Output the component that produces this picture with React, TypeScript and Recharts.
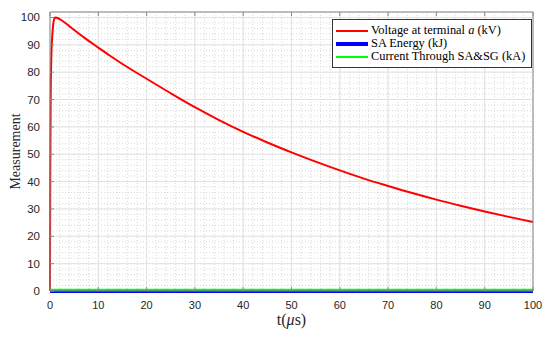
import React from "react";
import { LineChart, Line, XAxis, YAxis, CartesianGrid } from "recharts";

const timeUs = [0, 0.05, 0.15, 0.3, 0.5, 0.8, 1.1, 2, 3.5, 5, 7.5, 10, 12.5, 15, 20, 25, 30, 35, 40, 45, 50, 55, 60, 65, 70, 75, 80, 85, 90, 95, 100];
const voltageKV = [0, 40, 72, 87, 94, 99, 100, 99.4, 97.5, 95.4, 92.1, 89, 85.9, 83, 77.6, 72.3, 67.2, 62.5, 58.2, 54.3, 50.7, 47.3, 44.1, 41.1, 38.4, 35.8, 33.4, 31.2, 29.1, 27.1, 25.2];
const energyKJ = timeUs.map(() => 0);
const currentKA = timeUs.map(() => 0.5);

const X_DOMAIN: [number, number] = [0, 100];
const Y_DOMAIN: [number, number] = [0, 102];
const xTicks = [0, 10, 20, 30, 40, 50, 60, 70, 80, 90, 100];
const yTicks = [0, 10, 20, 30, 40, 50, 60, 70, 80, 90, 100];
const xMinor = Array.from({ length: 51 }, (_, i) => i * 2);
const yMinor = Array.from({ length: 52 }, (_, i) => i * 2);

const legendItems = [
  { label: "Voltage at terminal ", italic: "a", after: " (kV)", color: "#ff0000", w: 2 },
  { label: "SA Energy (kJ)", italic: "", after: "", color: "#0000ff", w: 4 },
  { label: "Current Through SA&SG (kA)", italic: "", after: "", color: "#00ff00", w: 2 },
];

const data = timeUs.map((t, i) => ({ t, v: voltageKV[i], e: energyKJ[i], c: currentKA[i] }));

const TICK_FONT = "'Liberation Sans', Arial, sans-serif";
const SERIF = "'Liberation Serif', 'Times New Roman', serif";
const BORDER = "#8a8a8a";

const BottomTick = (props: any) => {
  const { x, y, payload } = props;
  const axisY = y - 8;
  return (
    <g>
      <line x1={x} y1={axisY} x2={x} y2={axisY - 4} stroke={BORDER} />
      <text x={x} y={y + 10} textAnchor="middle" fontSize={11} fill="#262626" fontFamily={TICK_FONT}>
        {payload.value}
      </text>
    </g>
  );
};

const LeftTick = (props: any) => {
  const { x, y, payload } = props;
  const axisX = x + 9;
  return (
    <g>
      <line x1={axisX} y1={y} x2={axisX + 4} y2={y} stroke={BORDER} />
      <text x={x - 1} y={y + 4} textAnchor="end" fontSize={11.5} fill="#262626" fontFamily={TICK_FONT}>
        {payload.value}
      </text>
    </g>
  );
};

const TopTick = (props: any) => {
  const { x, y } = props;
  const axisY = y + 2;
  return <line x1={x} y1={axisY} x2={x} y2={axisY + 4} stroke={BORDER} />;
};

const RightTick = (props: any) => {
  const { x, y } = props;
  const axisX = x - 2;
  return <line x1={axisX} y1={y} x2={axisX - 4} y2={y} stroke={BORDER} />;
};

const minorH = ({ offset }: any) =>
  yMinor.map((v) => offset.top + offset.height * (1 - (v - Y_DOMAIN[0]) / (Y_DOMAIN[1] - Y_DOMAIN[0])));
const minorV = ({ offset }: any) =>
  xMinor.map((v) => offset.left + (offset.width * (v - X_DOMAIN[0])) / (X_DOMAIN[1] - X_DOMAIN[0]));

export default function App() {
  return (
    <div style={{ position: "absolute", left: 0, top: 0, width: 550, height: 338, background: "#fff" }}>
      <LineChart width={550} height={338} data={data} margin={{ top: 11, right: 16, bottom: 17, left: 0 }}>
        <CartesianGrid
          stroke="#d9d9d9"
          strokeDasharray="1 2"
          horizontalCoordinatesGenerator={minorH}
          verticalCoordinatesGenerator={minorV}
        />
        <CartesianGrid stroke="#e2e2e2" />
        <XAxis
          dataKey="t"
          type="number"
          domain={X_DOMAIN}
          ticks={xTicks}
          height={30}
          tickSize={0}
          tickMargin={8}
          tickLine={false}
          stroke={BORDER}
          tick={<BottomTick />}
          interval={0}
          label={{
            content: ({ viewBox }: any) => (
              <text
                x={viewBox.x + viewBox.width / 2}
                y={viewBox.y + 34}
                textAnchor="middle"
                fontSize={16}
                fill="#262626"
                fontFamily={SERIF}
              >
                <tspan>t(</tspan>
                <tspan fontStyle="italic">μ</tspan>
                <tspan>s)</tspan>
              </text>
            ),
          }}
        />
        <XAxis
          xAxisId="top"
          orientation="top"
          dataKey="t"
          type="number"
          domain={X_DOMAIN}
          ticks={xTicks}
          height={1}
          tickSize={0}
          tickMargin={2}
          tickLine={false}
          stroke={BORDER}
          tick={<TopTick />}
          interval={0}
        />
        <YAxis
          type="number"
          domain={Y_DOMAIN}
          ticks={yTicks}
          width={50}
          tickSize={0}
          tickMargin={9}
          tickLine={false}
          stroke={BORDER}
          tick={<LeftTick />}
          interval={0}
          label={{
            content: ({ viewBox }: any) => {
              const cx = 17;
              const cy = viewBox.y + viewBox.height / 2;
              return (
                <text
                  x={cx}
                  y={cy}
                  transform={`rotate(-90 ${cx} ${cy})`}
                  textAnchor="middle"
                  dominantBaseline="middle"
                  fontSize={14}
                  fill="#262626"
                  fontFamily={SERIF}
                >
                  Measurement
                </text>
              );
            },
          }}
        />
        <YAxis
          yAxisId="right"
          orientation="right"
          type="number"
          domain={Y_DOMAIN}
          ticks={yTicks}
          width={1}
          tickSize={0}
          tickMargin={2}
          tickLine={false}
          stroke={BORDER}
          tick={<RightTick />}
          interval={0}
        />
        <Line dataKey="e" stroke="#0000ff" strokeWidth={4} dot={false} isAnimationActive={false} type="linear" />
        <Line dataKey="c" stroke="#00ff00" strokeWidth={2} dot={false} isAnimationActive={false} type="linear" />
        <Line dataKey="v" stroke="#ff0000" strokeWidth={2} dot={false} isAnimationActive={false} type="monotone" />
      </LineChart>
      <div
        style={{
          position: "absolute",
          left: 332,
          top: 19,
          width: 198,
          height: 47,
          border: "1px solid #333",
          background: "#fff",
          fontFamily: SERIF,
          fontSize: 12.4,
          lineHeight: "13px",
          color: "#000",
          boxSizing: "content-box",
        }}
      >
        {legendItems.map((it, i) => (
          <div
            key={i}
            style={{
              position: "absolute",
              left: 3,
              top: 4 + i * 13,
              height: 13,
              display: "flex",
              alignItems: "center",
              whiteSpace: "nowrap",
            }}
          >
            <span style={{ display: "inline-block", width: 32, height: it.w, background: it.color, marginRight: 3 }} />
            <span>
              {it.label}
              {it.italic ? <i>{it.italic}</i> : null}
              {it.after}
            </span>
          </div>
        ))}
      </div>
    </div>
  );
}
